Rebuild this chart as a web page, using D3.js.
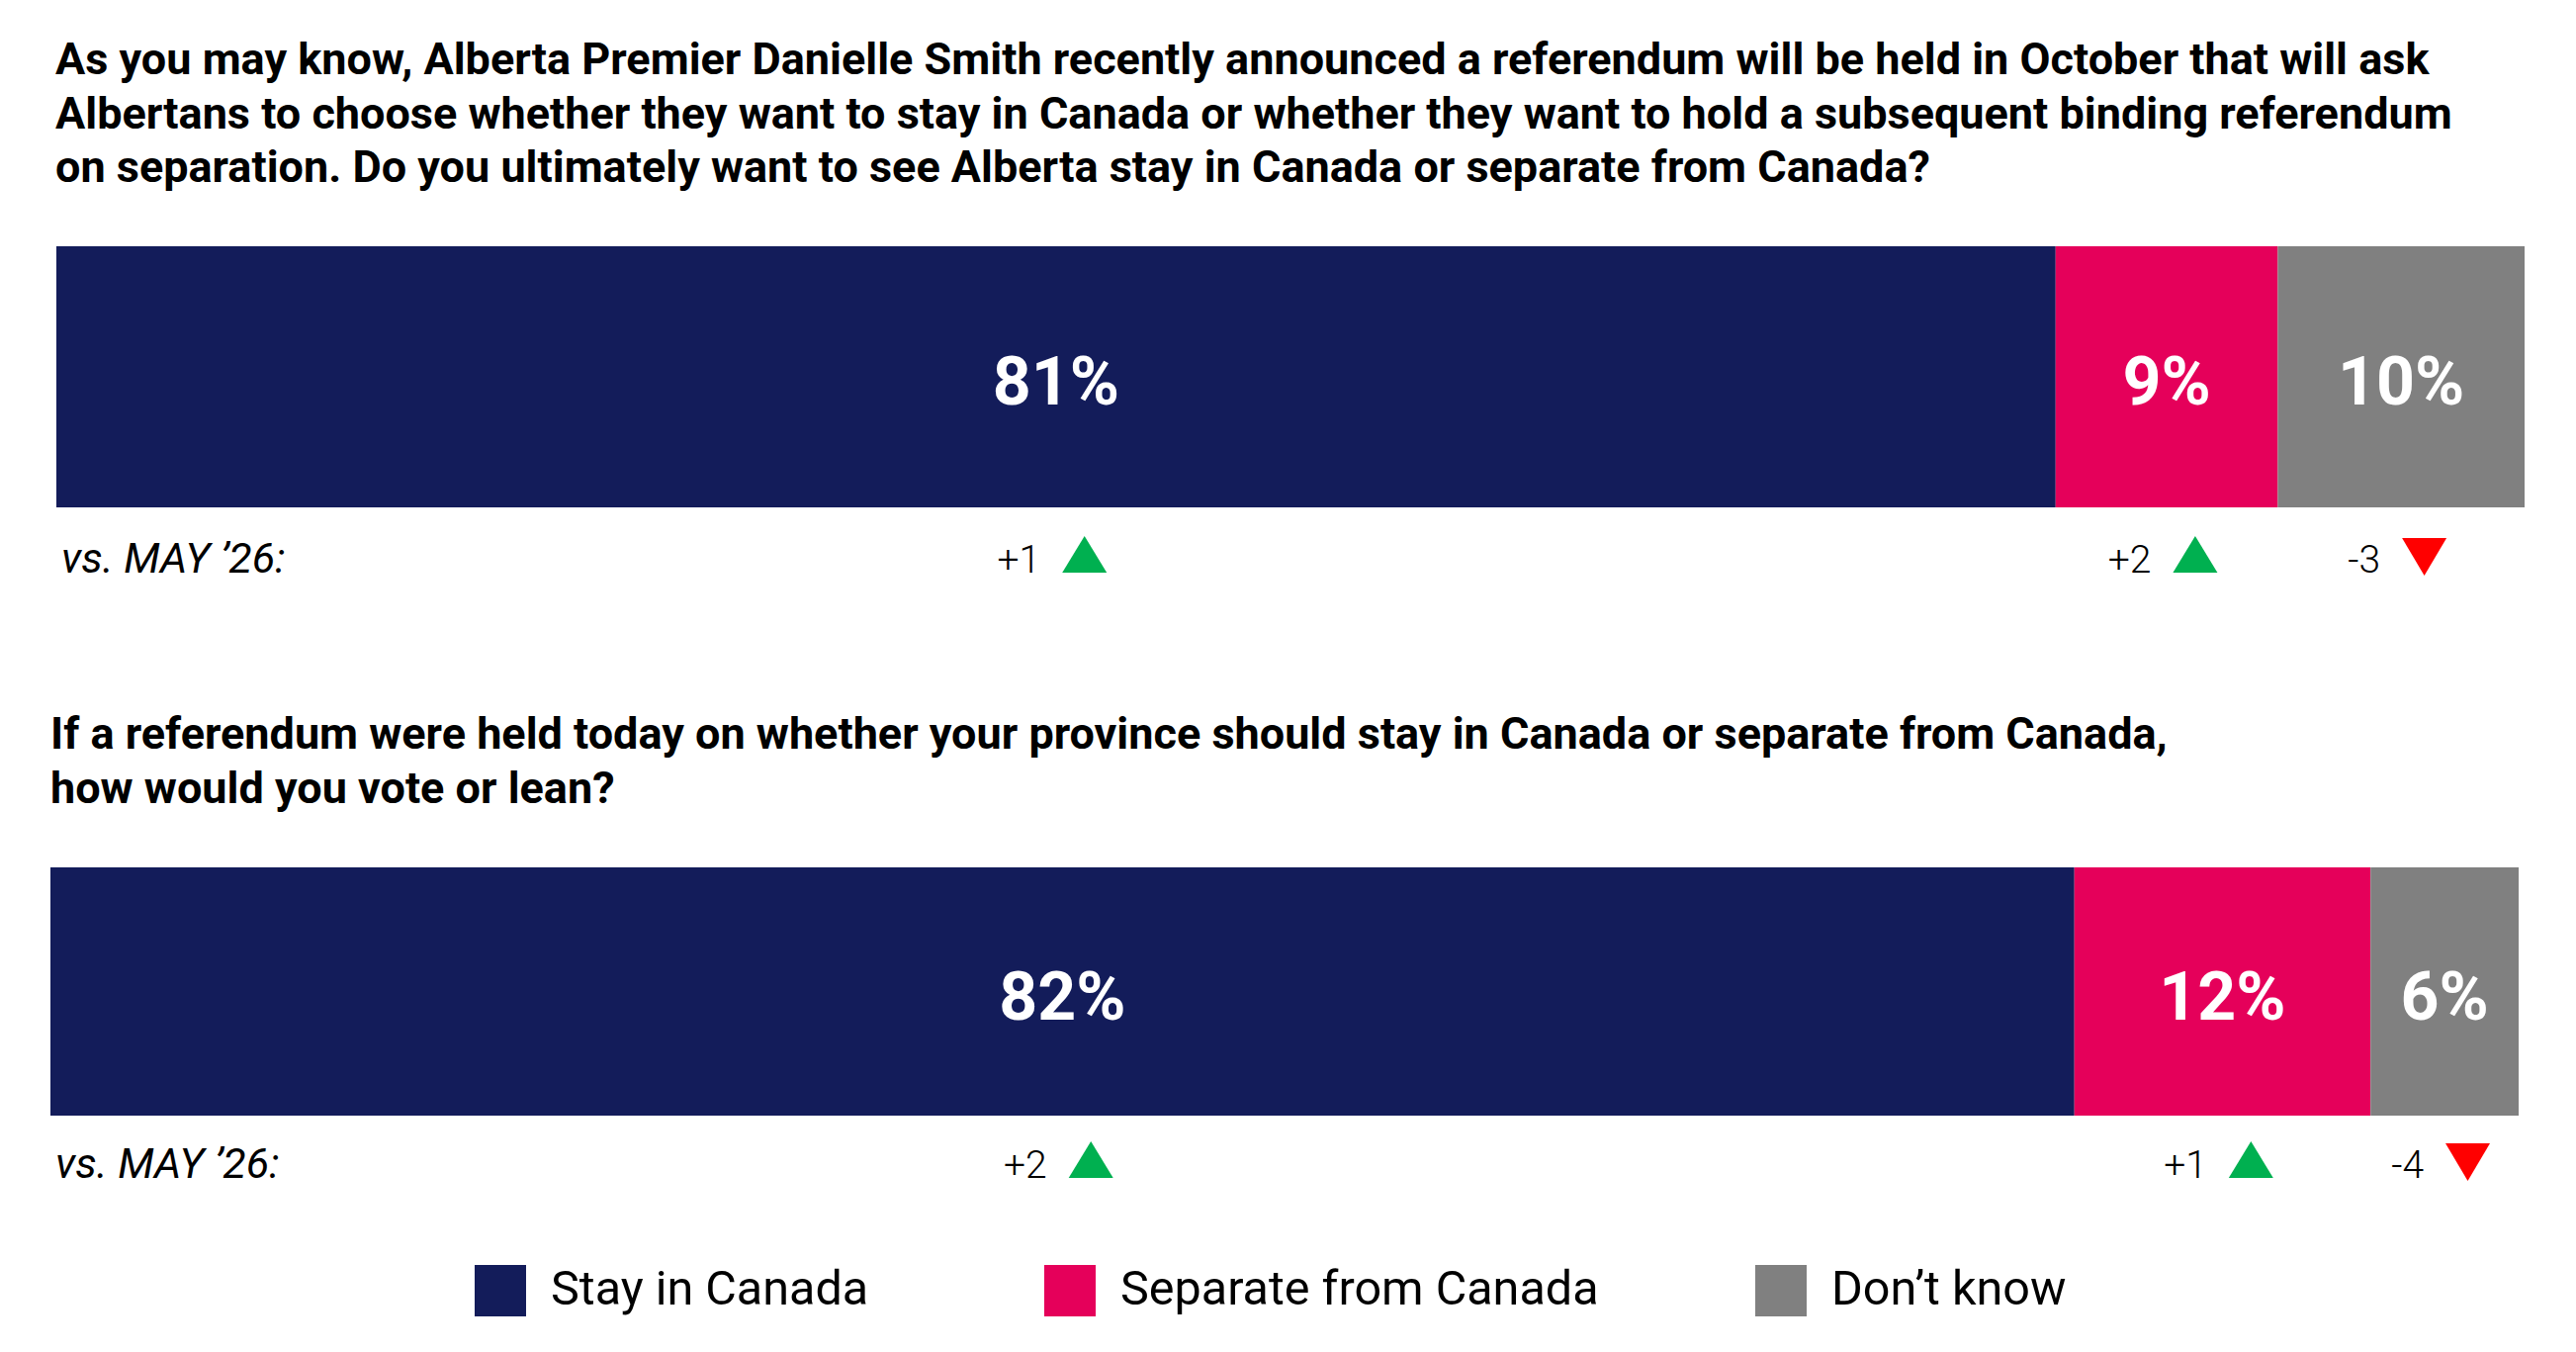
<!DOCTYPE html>
<html>
<head>
<meta charset="utf-8">
<script src="https://cdn.jsdelivr.net/npm/d3@7"></script>
<style>
  html, body { margin: 0; padding: 0; background: #ffffff; }
  svg { display: block; }
  text { font-family: Roboto, "Noto Sans", sans-serif; }
</style>
</head>
<body>
<svg id="chart" width="2605" height="1367"></svg>
<script>
// ---------- DATA ----------
const categories = ["Stay in Canada", "Separate from Canada", "Don’t know"];
const question1Lines = [
  "As you may know, Alberta Premier Danielle Smith recently announced a referendum will be held in October that will ask",
  "Albertans to choose whether they want to stay in Canada or whether they want to hold a subsequent binding referendum",
  "on separation. Do you ultimately want to see Alberta stay in Canada or separate from Canada?"
];
const question2Lines = [
  "If a referendum were held today on whether your province should stay in Canada or separate from Canada,",
  "how would you vote or lean?"
];
const values1 = [81, 9, 10];
const values2 = [82, 12, 6];
const changes1 = [1, 2, -3];
const changes2 = [2, 1, -4];
const comparisonLabel = "vs. MAY ’26:";

// ---------- STYLE ----------
const colors = ["#131c5a", "#e5005a", "#808080"];
const upColor = "#00b050", downColor = "#ff0000";

const svg = d3.select("#chart");
const color = d3.scaleOrdinal(categories, colors);

const panels = [
  { lines: question1Lines, values: values1, changes: changes1,
    titleX: 56, titleY: 75, titleSize: 45, lineH: 54.5,
    x0: 57, x1: 2553, barTop: 249, barBottom: 513,
    deltaY: 579, vsX: 62 },
  { lines: question2Lines, values: values2, changes: changes2,
    titleX: 51, titleY: 757, titleSize: 45, lineH: 55,
    x0: 51, x1: 2547, barTop: 877, barBottom: 1128,
    deltaY: 1191, vsX: 56 }
];

panels.forEach(p => {
  const g = svg.append("g");
  // title
  const t = g.append("text")
    .attr("x", p.titleX).attr("y", p.titleY)
    .attr("font-size", p.titleSize).attr("font-weight", 700).attr("fill", "#000");
  p.lines.forEach((ln, i) => {
    t.append("tspan").attr("x", p.titleX).attr("y", p.titleY + i * p.lineH).text(ln);
  });

  const x = d3.scaleLinear().domain([0, 100]).range([p.x0, p.x1]);
  const stacked = [];
  let acc = 0;
  p.values.forEach((v, i) => { stacked.push({ cat: categories[i], start: acc, end: acc + v, value: v, change: p.changes[i] }); acc += v; });

  g.selectAll("rect.seg").data(stacked).join("rect")
    .attr("class", "seg")
    .attr("x", d => x(d.start))
    .attr("width", d => x(d.end) - x(d.start))
    .attr("y", p.barTop)
    .attr("height", p.barBottom - p.barTop)
    .attr("fill", d => color(d.cat));

  const midY = (p.barTop + p.barBottom) / 2;
  g.selectAll("text.val").data(stacked).join("text")
    .attr("class", "val")
    .attr("x", d => (x(d.start) + x(d.end)) / 2)
    .attr("y", midY + 28)
    .attr("text-anchor", "middle")
    .attr("font-size", 68).attr("font-weight", 700).attr("fill", "#fff")
    .text(d => d.value + "%");

  // comparison label
  g.append("text")
    .attr("x", p.vsX).attr("y", p.deltaY)
    .attr("font-size", 43).attr("font-style", "italic").attr("font-weight", 400)
    .attr("fill", "#000")
    .text(comparisonLabel);

  // deltas
  const triW = 45, triH = 37, gap = 22;
  stacked.forEach(d => {
    const cx = (x(d.start) + x(d.end)) / 2;
    const txt = g.append("text")
      .attr("y", p.deltaY)
      .attr("font-size", 39).attr("font-weight", 300).attr("fill", "#000")
      .text((d.change > 0 ? "+" : "-") + Math.abs(d.change));
    const tw = txt.node().getComputedTextLength();
    const total = tw + gap + triW;
    const left = cx - total / 2 - 4;
    txt.attr("x", left);
    const tl = left + tw + gap;
    const up = d.change > 0;
    const pts = up
      ? [[tl, p.deltaY], [tl + triW, p.deltaY], [tl + triW / 2, p.deltaY - triH]]
      : [[tl, p.deltaY - 35], [tl + triW, p.deltaY - 35], [tl + triW / 2, p.deltaY + 3]];
    g.append("path")
      .attr("d", d3.line()(pts) + "Z")
      .attr("fill", up ? upColor : downColor);
  });
});

// legend
const legendX = [480, 1056, 1775];
const lg = svg.append("g").selectAll("g").data(categories).join("g")
  .attr("transform", (d, i) => `translate(${legendX[i]},1279)`);
lg.append("rect").attr("width", 52).attr("height", 52).attr("fill", d => color(d));
lg.append("text").attr("x", 77).attr("y", 40)
  .attr("font-size", 48.5).attr("font-weight", 400).attr("fill", "#000")
  .text(d => d);
</script>
</body>
</html>
